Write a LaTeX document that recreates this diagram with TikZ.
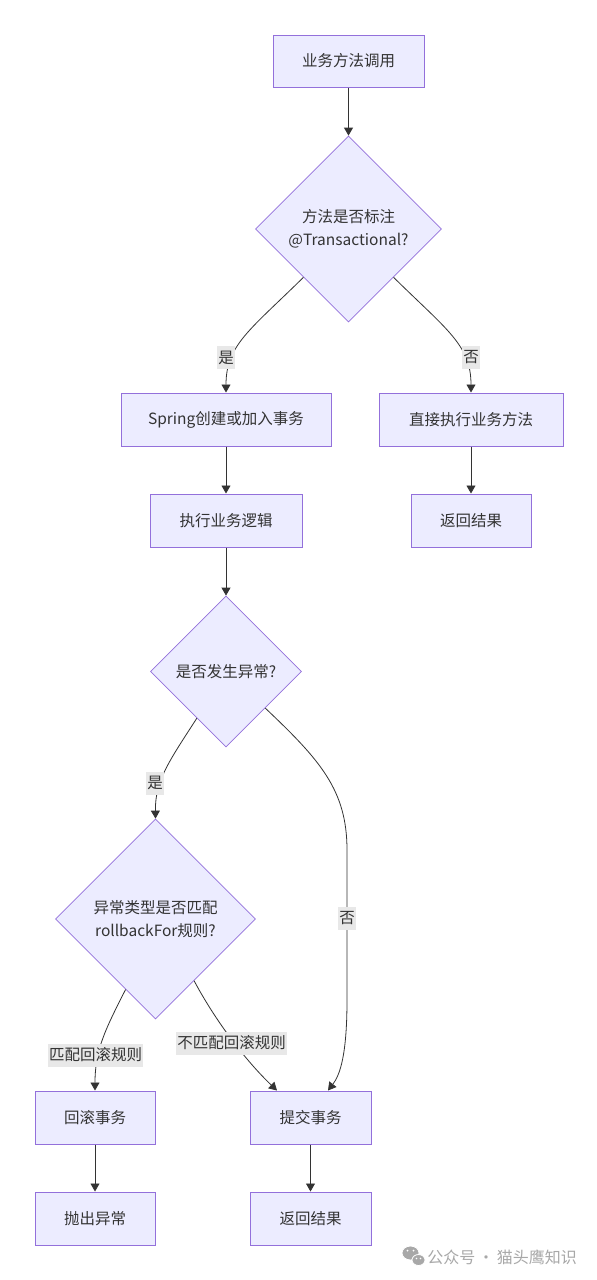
\documentclass[tikz,border=0pt]{standalone}
\usepackage{fontspec}
\setmainfont{Noto Sans CJK SC}
\usetikzlibrary{shapes.geometric,arrows.meta}
\definecolor{nfill}{HTML}{ECECFF}
\definecolor{nline}{HTML}{9370DB}
\definecolor{eline}{HTML}{333333}
\definecolor{lbg}{HTML}{E8E8E8}
\definecolor{wm}{HTML}{A8A8A8}
\begin{document}
\begin{tikzpicture}[x=1pt,y=-1pt,
  txt/.style={text=eline,font=\fontsize{15.5}{23}\selectfont,align=center},
  box/.style={txt,draw=nline,fill=nfill,line width=1pt,inner sep=0pt,minimum height=53pt},
  dia/.style={txt,diamond,shape aspect=1,draw=nline,fill=nfill,line width=0.8pt,inner sep=0pt},
  edge/.style={draw=eline,line width=0.8pt,-{Triangle[length=8pt,width=9pt]}},
  lab/.style={txt,fill=lbg,inner sep=0pt,inner xsep=1pt,minimum height=23pt}]
\useasboundingbox (0,0) rectangle (597,1280);
\fill[white] (0,0) rectangle (597,1280);
% nodes
\node[box,minimum width=151pt,minimum height=52pt] (A) at (348.5,61) {业务方法调用};
\node[dia,minimum size=186pt] (B) at (348.5,229) {方法是否标注\\@Transactional?};
\node[box,minimum width=210pt] (C) at (226,419.5) {Spring创建或加入事务};
\node[box,minimum width=184pt] (D) at (471,419.5) {直接执行业务方法};
\node[box,minimum width=152pt] (E) at (226,520.5) {执行业务逻辑};
\node[box,minimum width=120pt] (F) at (471,520.5) {返回结果};
\node[dia,minimum size=151pt] (G) at (226,671.5) {是否发生异常?};
\node[dia,minimum size=200pt] (H) at (155.5,919) {异常类型是否匹配\\rollbackFor规则?};
\node[box,minimum width=120pt] (I) at (95,1117.5) {回滚事务};
\node[box,minimum width=120pt] (J) at (95,1218.5) {抛出异常};
\node[box,minimum width=121pt] (K) at (310.5,1117.5) {提交事务};
\node[box,minimum width=121pt] (L) at (310.5,1218.5) {返回结果};
% edges
\draw[edge] (A.south) -- (B.north);
\draw[edge] (B.-133) .. controls (250,330) and (226,345) .. (C.north);
\draw[edge] (B.-47) .. controls (447,330) and (471,345) .. (D.north);
\draw[edge] (C.south) -- (E.north);
\draw[edge] (D.south) -- (F.north);
\draw[edge] (E.south) -- (G.north);
\draw[edge] (G.-122) .. controls (170,760) and (155,780) .. (H.north);
\draw[edge] (G.-43) .. controls (320,760) and (347,790) .. (347,850) -- (347,1000) .. controls (347,1055) and (340,1075) .. ([xshift=17.5pt]K.north);
\draw[edge] (H.-113.5) .. controls (105,1030) and (95,1050) .. (I.north);
\draw[edge] (H.-58.6) .. controls (215,1020) and (245,1060) .. ([xshift=-33.5pt]K.north);
\draw[edge] (I.south) -- (J.north);
\draw[edge] (K.south) -- (L.north);
% labels
\node[lab] (l1) at (226,357.5) {是};
\node[lab] (l2) at (471,357.5) {否};
\node[lab] (l3) at (155,783) {是};
\node[lab] (l4) at (347,918) {否};
\node[lab] (l5) at (95.5,1055) {匹配回滚规则};
\node[lab] (l6) at (231.5,1043) {不匹配回滚规则};
% watermark
\node[text=wm,font=\fontsize{16}{20}\selectfont,anchor=east,inner sep=0pt] (wmt) at (577,1257) {公众号\,·\,猫头鹰知识};
\fill[wm,draw=white,line width=0.8pt] (410.5,1253) ellipse [x radius=8.5pt,y radius=7pt];
\fill[wm,draw=white,line width=0.8pt] (418.5,1260) ellipse [x radius=6.5pt,y radius=5.5pt];
\fill[white] (407.5,1250.5) circle (1pt) (413.5,1250.5) circle (1pt) (416.5,1258.5) circle (0.8pt) (420.5,1258.5) circle (0.8pt);
\end{tikzpicture}
\end{document}
